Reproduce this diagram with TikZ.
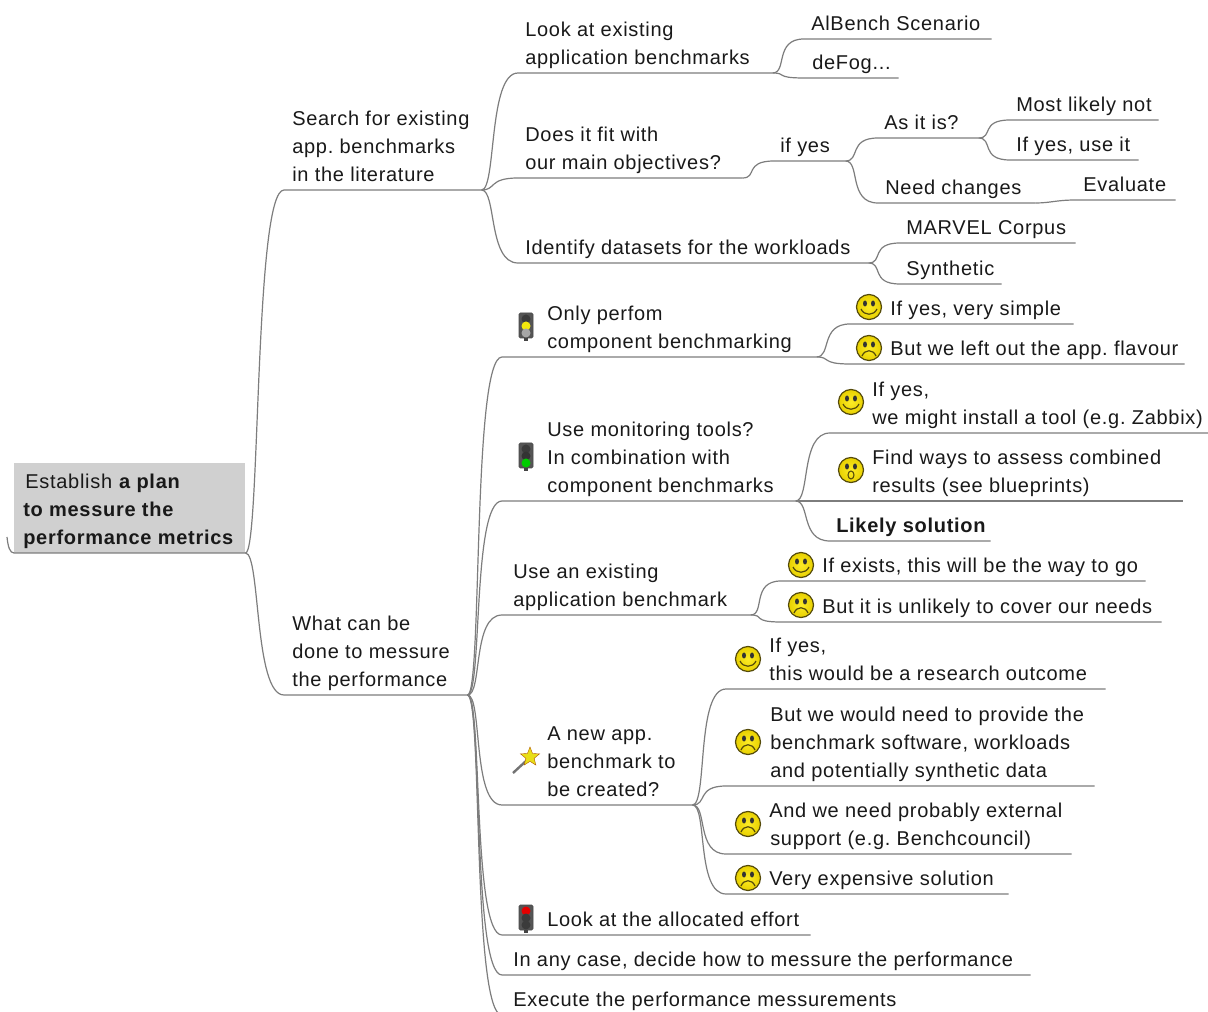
\documentclass[tikz,border=0pt]{standalone}
\usepackage{fontspec}
\setmainfont[LetterSpace=3.6]{Liberation Sans}
\usetikzlibrary{shapes.geometric}
\definecolor{connc}{RGB}{125,125,125}
\definecolor{rootc}{RGB}{208,208,208}
\definecolor{textc}{RGB}{25,25,25}
\definecolor{facec}{RGB}{252,232,0}
\definecolor{faced}{RGB}{232,208,0}
\definecolor{edgec}{RGB}{85,75,10}
\definecolor{bodyc}{RGB}{85,85,85}
\tikzset{
  topic/.style={anchor=south west,inner sep=0pt,text=textc,font=\fontsize{15}{21}\selectfont},
  conn/.style={draw=connc,line width=0.9pt},
  faceball/.style={draw=edgec,line width=0.9pt,inner color=facec!85!white,outer color=faced},
  smileicon/.pic={
    \shade[faceball] (0,0) circle[radius=12.5];
    \fill[black!80] (-4,-3.5) ellipse[x radius=2,y radius=3];
    \fill[black!80] (4,-3.5) ellipse[x radius=2,y radius=3];
    \draw[edgec,line width=0.9pt] (-8,2) .. controls (-5,9) and (5,9) .. (8,2);
  },
  frownicon/.pic={
    \shade[faceball] (0,0) circle[radius=12.5];
    \fill[black!80] (-4,-3.5) ellipse[x radius=2,y radius=3];
    \fill[black!80] (4,-3.5) ellipse[x radius=2,y radius=3];
    \draw[edgec,line width=0.9pt] (-7,8) .. controls (-4,1) and (4,1) .. (7,8);
  },
  ohicon/.pic={
    \shade[faceball] (0,0) circle[radius=12.5];
    \fill[black!80] (-4,-3.5) ellipse[x radius=2,y radius=3];
    \fill[black!80] (4,-3.5) ellipse[x radius=2,y radius=3];
    \draw[edgec,line width=0.8pt] (0,5) ellipse[x radius=3,y radius=4];
  }
}
% optional style, name, line start, text start, line y, line end, text
\newcommand\topicnode[7][]{%
  \pgfmathsetlengthmacro\topicw{(#6-#3)*0.75}%
  \pgfmathsetlengthmacro\topico{(#4-#3)*0.75}%
  \node[topic,#1] (#2) at (#3,#5) {\makebox[\topicw][l]{\hspace*{\topico}\parbox[b]{700pt}{\frenchspacing\raggedright #7\rule[-5.9pt]{0pt}{0pt}}}};%
}
\newcommand\conn[2]{\draw[conn] (#1.south east) .. controls +(15,0) and +(-30,0) .. (#2.south west) -- (#2.south east);}
\newcommand\lighticon[5]{% name x y, lamps
  \fill[bodyc,draw=black!70,line width=0.4pt,rounded corners=1pt] (#1-7,#2-13) rectangle (#1+7,#2+12);
  \fill[bodyc!80!black] (#1-2,#2+12) rectangle (#1+2,#2+15);
  \fill[#3] (#1,#2-7) circle[radius=4.5];
  \fill[#4] (#1,#2) circle[radius=4.5];
  \fill[#5] (#1,#2+7) circle[radius=4.5];
}
\begin{document}
\begin{tikzpicture}[x=0.75pt,y=-0.75pt]
\useasboundingbox (0,0) rectangle (1208,1012);
\fill[white] (0,0) rectangle (1208,1012);
\coordinate (rootin) at (7,537);
\topicnode[fill=rootc]{root}{14}{23}{553}{245}{\rule{0pt}{19.6pt}\hspace*{1.5pt}Establish \textbf{a plan}\\\textbf{to messure the}\\\textbf{performance metrics}}
\draw[conn] (rootin) .. controls +(1,10) and +(-4,0) .. (root.south west) -- (root.south east);

\topicnode{r1}{284}{292}{190}{481}{Search for existing\\app. benchmarks\\in the literature}
\topicnode{r2}{284}{292}{695}{467}{What can be\\done to messure\\the performance}
\conn{root}{r1}
\conn{root}{r2}

\topicnode{a1}{518}{525}{73}{772}{Look at existing\\application benchmarks}
\topicnode{a2}{518}{525}{178}{742}{Does it fit with\\our main objectives?}
\topicnode{a3}{518}{525}{263}{868}{Identify datasets for the workloads}
\conn{r1}{a1}\conn{r1}{a2}\conn{r1}{a3}

\topicnode{a1x}{804}{811}{39}{991}{AlBench Scenario}
\topicnode{a1y}{804}{812}{78}{898}{deFog...}
\conn{a1}{a1x}\conn{a1}{a1y}

\topicnode{ify}{774}{780}{161}{845}{if yes}
\conn{a2}{ify}
\topicnode{asis}{878}{884}{138}{978}{As it is?}
\topicnode{need}{878}{885}{203}{1035}{Need changes}
\conn{ify}{asis}\conn{ify}{need}
\topicnode{most}{1010}{1016}{120}{1158}{Most likely not}
\topicnode{useit}{1010}{1016}{160}{1138}{If yes, use it}
\conn{asis}{most}\conn{asis}{useit}
\topicnode{eval}{1076}{1083}{200}{1175}{Evaluate}
\draw[conn] (need.south east) .. controls +(15,0) and +(-20,0) .. (eval.south west) -- (eval.south east);

\topicnode{marvel}{900}{906}{243}{1075}{MARVEL Corpus}
\topicnode{synth}{900}{906}{284}{1001}{Synthetic}
\conn{a3}{marvel}\conn{a3}{synth}

\topicnode{b1}{502}{547}{357}{816}{Only perfom\\component benchmarking}
\topicnode{b2}{502}{547}{501}{795}{Use monitoring tools?\\In combination with\\component benchmarks}
\topicnode{b3}{502}{513}{615}{750}{Use an existing\\application benchmark}
\topicnode{b4}{502}{547}{805}{692}{A new app.\\benchmark to\\be created?}
\topicnode{b5}{502}{547}{935}{810}{Look at the allocated effort}
\topicnode{b6}{502}{513}{975}{1030}{In any case, decide how to messure the performance}
\topicnode{b7}{502}{513}{1015}{920}{Execute the performance messurements}
\conn{r2}{b1}\conn{r2}{b2}\conn{r2}{b3}\conn{r2}{b4}\conn{r2}{b5}\conn{r2}{b6}\conn{r2}{b7}

\topicnode{c1}{850}{890}{324}{1073}{If yes, very simple}
\topicnode{c2}{850}{890}{364}{1184}{But we left out the app. flavour}
\conn{b1}{c1}\conn{b1}{c2}

\topicnode{d1}{830}{872}{433}{1208}{If yes,\\we might install a tool (e.g. Zabbix)}
\topicnode{d2}{830}{872}{501}{1182}{Find ways to assess combined\\results (see blueprints)}
\topicnode{d3}{830}{836}{541}{990}{\textbf{Likely solution}}
\conn{b2}{d1}\conn{b2}{d2}\conn{b2}{d3}

\topicnode{e1}{781}{822}{581}{1145}{If exists, this will be the way to go}
\topicnode{e2}{781}{822}{622}{1161}{But it is unlikely to cover our needs}
\conn{b3}{e1}\conn{b3}{e2}

\topicnode{f1}{726}{769}{689}{1105}{If yes,\\this would be a research outcome}
\topicnode{f2}{726}{770}{786}{1094}{But we would need to provide the\\benchmark software, workloads\\and potentially synthetic data}
\topicnode{f3}{726}{769}{854}{1071}{And we need probably external\\\hspace*{0.75pt}support (e.g. Benchcouncil)}
\topicnode{f4}{726}{769}{894}{1008}{Very expensive solution}
\conn{b4}{f1}\conn{b4}{f2}\conn{b4}{f3}\conn{b4}{f4}

% icons
\lighticon{526}{326}{bodyc!70!black}{yellow!95!black}{gray!70}
\lighticon{526}{456}{bodyc!70!black}{bodyc!60!black}{green!80!black}
\lighticon{526}{918}{red!90!black}{bodyc!70!black}{bodyc!70!black}
\pic at (869,307) {smileicon};
\pic at (869,348) {frownicon};
\pic at (851,402) {smileicon};
\pic at (851,470) {ohicon};
\pic at (801,565) {smileicon};
\pic at (801,605) {frownicon};
\pic at (748,659) {smileicon};
\pic at (748,742) {frownicon};
\pic at (748,824) {frownicon};
\pic at (748,878) {frownicon};
\draw[gray!90!black,line width=1.8pt] (513,773) -- (526,761);
\node[star,star points=5,star point ratio=2.3,fill=yellow!90!black,draw=orange!70!black,line width=0.3pt,inner sep=0pt,minimum size=15pt] (wandstar) at (530,757) {};
\end{tikzpicture}
\end{document}
